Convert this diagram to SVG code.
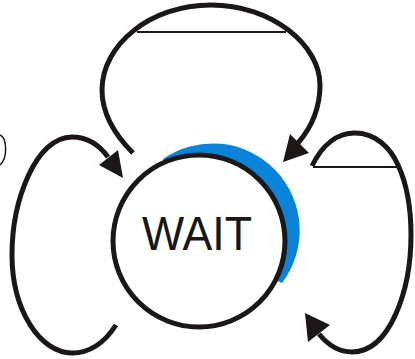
<svg xmlns="http://www.w3.org/2000/svg" width="415" height="359" viewBox="0 0 415 359">
<style>
.edge{fill:none;stroke:#1a1716;stroke-width:5;stroke-linecap:butt}
.chord{fill:none;stroke:#1a1716;stroke-width:2}
.head{fill:#1a1716;stroke:none}
.node{fill:#fff;stroke:#1a1716;stroke-width:5}
.label{font-family:"Liberation Sans",Arial,sans-serif;font-size:48px;fill:#1a1716}
</style>
<rect width="415" height="359" fill="#fff"/>
<g id="connectors">
<path class="edge" d="M133,153 C112,132 102,112 102,90 C102,45 150,5 211,5 C272,5 320,45 320,85 C320,110 311,128 298,143"/>
<line class="chord" x1="137" y1="32" x2="286" y2="32"/>
<polygon class="head" points="290,134 309,153 283,162"/>
<path class="edge" d="M116,325 C105,342 90,353 72,353 C40,353 12,310 12,255 C12,200 36,137 72,137 C88,137 100,146 108,157"/>
<polygon class="head" points="99,165 118,150 123,178"/>
<path class="edge" d="M312,166 C322,145 337,133 355,133 C375,133 390,147 398,165 C405,180 411,205 411,235 C411,290 390,352 352,352 C340,352 328,345 319,334"/>
<line class="chord" x1="313" y1="167" x2="397" y2="167"/>
<polygon class="head" points="305,313 330,325 308,342"/>
<path fill="none" stroke="#1a1716" stroke-width="1.5" d="M0,135 C7,138 8,158 0,165"/>
</g>
<g id="wait">
<path fill="#0a84d8" d="M164,162 L163,159 A87 87 0 0 1 282,283 L275,280 A86 86 0 0 0 164,162 Z"/>
<circle class="node" cx="199" cy="241" r="86"/>
<text class="label" x="197" y="250" text-anchor="middle" textLength="110" lengthAdjust="spacingAndGlyphs">WAIT</text>
</g>
</svg>
